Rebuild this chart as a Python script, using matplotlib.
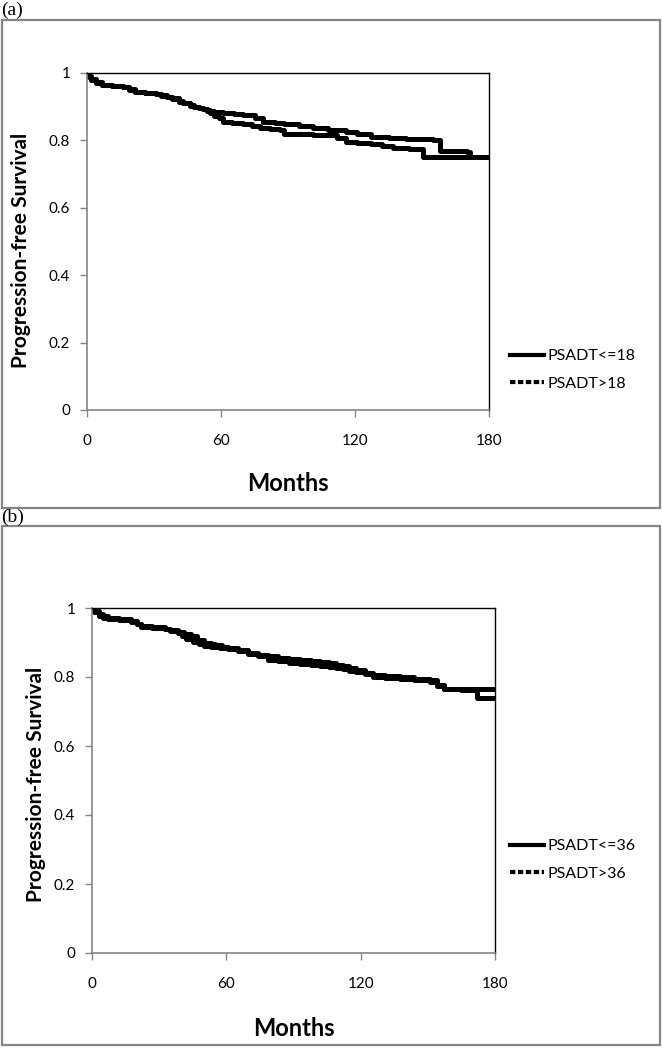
import matplotlib
matplotlib.use("Agg")
import matplotlib.pyplot as plt
from matplotlib.lines import Line2D
from matplotlib.patches import Rectangle

# ---------------- data ----------------
# Panel (a)
a_le_t = [0, 1, 2, 4, 6.5, 11, 16, 19, 21.5, 26, 31, 33, 35.7, 38, 41, 43, 46, 48, 50, 52, 53.6, 55, 57, 59, 61, 65,
          70, 74, 77.5, 82, 86.4, 88, 95, 101, 107, 112, 116, 121, 127, 132, 137, 144, 150.5, 180]
a_le_s = [1.0, 0.99, 0.982, 0.972, 0.965, 0.962, 0.958, 0.952, 0.945, 0.942, 0.939, 0.935, 0.93, 0.925, 0.918, 0.912,
          0.905, 0.9, 0.897, 0.894, 0.89, 0.88, 0.872, 0.865, 0.855, 0.853, 0.85, 0.843, 0.836, 0.833, 0.83, 0.82,
          0.818, 0.816, 0.815, 0.806, 0.796, 0.793, 0.79, 0.784, 0.776, 0.774, 0.752, 0.75]
a_gt_t = [0, 1, 2, 4, 6.5, 11, 16, 19, 21.5, 26, 31, 33, 35.7, 38, 41, 43, 46, 48, 50, 52, 53.6, 57, 61, 66, 70, 75,
          79, 84, 88, 95, 101, 108, 116, 121, 127, 135, 143, 150, 155, 158, 165, 170, 171.5, 176, 180]
a_gt_s = [1.0, 0.988, 0.98, 0.97, 0.963, 0.96, 0.957, 0.95, 0.944, 0.94, 0.937, 0.933, 0.928, 0.922, 0.915, 0.91,
          0.903, 0.899, 0.895, 0.892, 0.888, 0.884, 0.88, 0.878, 0.875, 0.865, 0.855, 0.853, 0.85, 0.843, 0.836,
          0.831, 0.825, 0.818, 0.81, 0.808, 0.805, 0.803, 0.80, 0.77, 0.768, 0.765, 0.752, 0.75, 0.75]
a_labels = ["PSADT<=18", "PSADT>18"]

# Panel (b)
b_le_t = [0, 1, 3, 5, 7, 12, 17.6, 20, 22, 27, 32.5, 35, 38.4, 41, 44, 47, 50, 53, 55, 58, 60.7, 65, 69.7, 74,
          78.6, 83, 88, 93, 98, 102, 106, 109, 112, 115, 118, 122, 125.6, 131, 137.6, 144, 151, 154, 157, 180]
b_le_s = [1.0, 0.99, 0.982, 0.976, 0.971, 0.967, 0.962, 0.955, 0.948, 0.944, 0.94, 0.936, 0.93, 0.925, 0.918,
          0.908, 0.9, 0.896, 0.893, 0.888, 0.884, 0.877, 0.87, 0.865, 0.86, 0.856, 0.852, 0.85, 0.847, 0.843,
          0.84, 0.836, 0.832, 0.826, 0.82, 0.812, 0.805, 0.802, 0.8, 0.795, 0.79, 0.778, 0.765, 0.765]
b_gt_t = [0, 1, 3, 5, 7, 12, 17.6, 20, 22, 27, 32.5, 35, 38.4, 40, 42, 45, 48, 50, 53, 57, 60.7, 65, 69.7, 74,
          78.6, 83, 88, 93, 98, 102, 106, 109, 112, 115, 118, 122, 125.6, 131, 137.6, 144, 151, 154, 157, 165,
          172, 180]
b_gt_s = [1.0, 0.987, 0.978, 0.972, 0.968, 0.964, 0.96, 0.953, 0.946, 0.943, 0.94, 0.934, 0.928, 0.918, 0.91,
          0.902, 0.895, 0.891, 0.888, 0.884, 0.88, 0.874, 0.868, 0.86, 0.85, 0.846, 0.842, 0.838, 0.835, 0.832,
          0.83, 0.826, 0.822, 0.818, 0.815, 0.808, 0.8, 0.797, 0.795, 0.79, 0.785, 0.775, 0.765, 0.762, 0.738,
          0.738]
b_labels = ["PSADT<=36", "PSADT>36"]

x_ticks = [0, 60, 120, 180]
y_ticks = [0, 0.2, 0.4, 0.6, 0.8, 1.0]
y_ticklabels = ["0", "0.2", "0.4", "0.6", "0.8", "1"]

# ---------------- layout ----------------
W, H = 662, 1050
fig = plt.figure(figsize=(W / 100, H / 100), dpi=100)
plt.rcParams['font.family'] = ['Lato', 'DejaVu Sans']


def fx(px):
    return px / W


def fy(py):
    return 1 - py / H


def box(x0, y0, x1, y1):
    fig.patches.append(Rectangle((fx(x0), fy(y1)), fx(x1) - fx(x0), fy(y0) - fy(y1),
                                 transform=fig.transFigure, fill=False,
                                 edgecolor='#858585', linewidth=1.6))


def panel(rect_px, t1, s1, t2, s2, labels, ylab_x, ylab_y, leg_y):
    l, t, r, b = rect_px
    ax = fig.add_axes([fx(l), fy(b), fx(r) - fx(l), (b - t) / H])
    ax.step(t1, s1, where='post', color='black', linewidth=3.6)
    ax.step(t2, s2, where='post', color='black', linewidth=3.6)
    ax.set_xlim(0, 180)
    ax.set_ylim(0, 1)
    ax.set_xticks(x_ticks)
    ax.set_yticks(y_ticks)
    ax.set_yticklabels(y_ticklabels)
    ax.tick_params(axis='both', labelsize=11, length=5, width=1, color='#858585')
    ax.tick_params(axis='x', pad=12)
    ax.tick_params(axis='y', pad=7)
    for s in ['left', 'bottom']:
        ax.spines[s].set_color('#858585')
        ax.spines[s].set_linewidth(1.2)
    for s in ['top', 'right']:
        ax.spines[s].set_color('black')
        ax.spines[s].set_linewidth(1.0)
    ax.set_xlabel("Months", fontsize=17, fontweight='bold')
    ax.set_ylabel("Progression-free Survival", fontsize=15, fontweight='bold')
    ax.xaxis.set_label_coords(0.5, -0.185)
    ax.yaxis.set_label_coords((ylab_x - l) / (r - l), (b - ylab_y) / (b - t))
    handles = [Line2D([], [], color='black', linewidth=3, linestyle='-'),
               Line2D([], [], color='black', linewidth=3, linestyle=(0, (1.3, 0.6)))]
    ax.legend(handles, labels, loc='center left', bbox_to_anchor=(fx(502), fy(leg_y)),
              bbox_transform=fig.transFigure, frameon=False, fontsize=11.5,
              handlelength=2.1, handletextpad=0.25, labelspacing=0.85, borderpad=0)
    return ax


box(2, 20, 660, 508)
box(2, 526, 660, 1045)
fig.text(fx(1), fy(10), "(a)", family='Liberation Serif', fontsize=14, va='center', ha='left')
fig.text(fx(1), fy(517), "(b)", family='Liberation Serif', fontsize=14, va='center', ha='left')

panel((87, 73, 489, 410), a_le_t, a_le_s, a_gt_t, a_gt_s, a_labels, 31, 250, 370)
panel((92, 608, 495, 953), b_le_t, b_le_s, b_gt_t, b_gt_s, b_labels, 46, 784, 860)

fig.savefig("out.png", dpi=100)
